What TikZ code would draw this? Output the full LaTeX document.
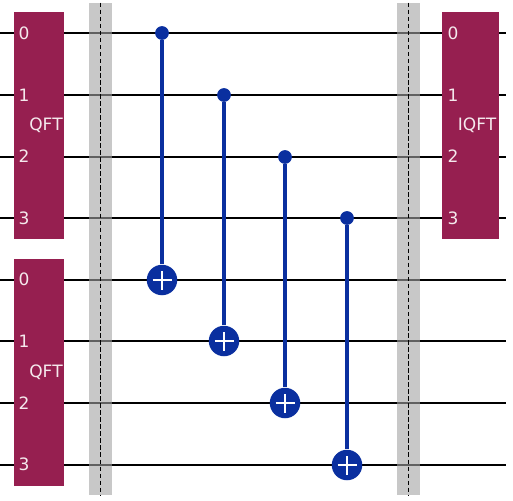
\documentclass[tikz,border=0pt]{standalone}
\usepackage{fontspec}
\setmainfont{DejaVu Sans}
\definecolor{gatered}{HTML}{961F50}
\definecolor{ctrlblue}{HTML}{0A2F9F}
\definecolor{barriergray}{HTML}{A3A3A3}
\tikzset{
  wire/.style={black,line width=1.6pt},
  ctrlline/.style={ctrlblue,line width=1.8pt},
  ctrl/.style={inner sep=0pt,circle,fill=ctrlblue,minimum size=0.275cm},
  target/.style={inner sep=0pt,circle,fill=ctrlblue,minimum size=0.61cm,
    path picture={\draw[white,line width=1.65pt]
      ([xshift=-0.19cm]path picture bounding box.center) -- ([xshift=0.19cm]path picture bounding box.center)
      ([yshift=-0.19cm]path picture bounding box.center) -- ([yshift=0.19cm]path picture bounding box.center);}},
  gatebox/.style={inner sep=0pt,fill=gatered,minimum height=4.54cm},
  gatetext/.style={text=white!90!gatered,font=\fontsize{9.7}{12}\selectfont,inner sep=0pt},
  barrierbar/.style={inner sep=0pt,fill=barriergray,fill opacity=0.6,minimum width=0.46cm,minimum height=9.84cm},
  barrierline/.style={black,line width=0.8pt,dash pattern=on 2.6pt off 1.4pt}
}

\begin{document}
\begin{tikzpicture}[x=0.02cm,y=-0.02cm]
\useasboundingbox (0,0) rectangle (513,500);

% wires
\coordinate (L0) at (0,33);   \coordinate (R0) at (506,33);
\coordinate (L1) at (0,95);   \coordinate (R1) at (506,95);
\coordinate (L2) at (0,157);  \coordinate (R2) at (506,157);
\coordinate (L3) at (0,218);  \coordinate (R3) at (506,218);
\coordinate (L4) at (0,280);  \coordinate (R4) at (506,280);
\coordinate (L5) at (0,341);  \coordinate (R5) at (506,341);
\coordinate (L6) at (0,403);  \coordinate (R6) at (506,403);
\coordinate (L7) at (0,465);  \coordinate (R7) at (506,465);
\draw[wire] (L0) -- (R0);
\draw[wire] (L1) -- (R1);
\draw[wire] (L2) -- (R2);
\draw[wire] (L3) -- (R3);
\draw[wire] (L4) -- (R4);
\draw[wire] (L5) -- (R5);
\draw[wire] (L6) -- (R6);
\draw[wire] (L7) -- (R7);

% gates
\node[gatebox,minimum width=1cm] (QFTA) at (39,125.5) {};
\node[gatebox,minimum width=1cm] (QFTB) at (39,372.5) {};
\node[gatebox,minimum width=1.14cm] (IQFT) at (470.5,125.5) {};

\node[gatetext] (QFTAname) at (46,125) {QFT};
\node[gatetext] (QFTA0) at (24,33) {0};
\node[gatetext] (QFTA1) at (24,95) {1};
\node[gatetext] (QFTA2) at (24,156) {2};
\node[gatetext] (QFTA3) at (24,218) {3};

\node[gatetext] (QFTBname) at (46,372) {QFT};
\node[gatetext] (QFTB0) at (24,279) {0};
\node[gatetext] (QFTB1) at (24,341) {1};
\node[gatetext] (QFTB2) at (24,403) {2};
\node[gatetext] (QFTB3) at (24,464) {3};

\node[gatetext] (IQFTname) at (477,125) {IQFT};
\node[gatetext] (IQFT0) at (453,33) {0};
\node[gatetext] (IQFT1) at (453,95) {1};
\node[gatetext] (IQFT2) at (453,156) {2};
\node[gatetext] (IQFT3) at (453,218) {3};

% barriers
\node[barrierbar] (BA) at (100.5,249) {};
\node[barrierbar] (BB) at (408.5,249) {};
\draw[barrierline] (BA.north) -- (BA.south);
\draw[barrierline] (BB.north) -- (BB.south);

% cnots
\node[ctrl] (C0) at (162,33) {};
\node[ctrl] (C1) at (224,95) {};
\node[ctrl] (C2) at (285,157) {};
\node[ctrl] (C3) at (347,218) {};
\node[target] (T0) at (162,280) {};
\node[target] (T1) at (224,341) {};
\node[target] (T2) at (285,403) {};
\node[target] (T3) at (347,465) {};
\draw[ctrlline] (C0) -- (T0);
\draw[ctrlline] (C1) -- (T1);
\draw[ctrlline] (C2) -- (T2);
\draw[ctrlline] (C3) -- (T3);
\end{tikzpicture}
\end{document}
